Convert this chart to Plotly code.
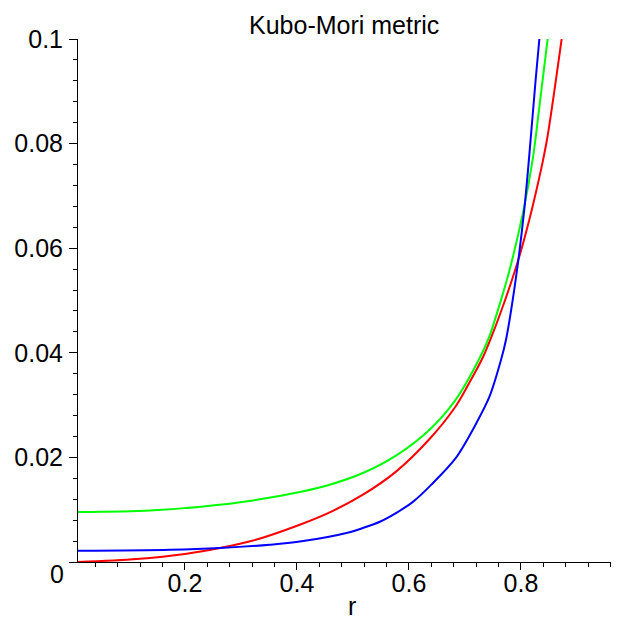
import plotly.graph_objects as go

# Data
green_r = [0.009, 0.1376, 0.2326, 0.3218, 0.405, 0.4585, 0.5178, 0.5774, 0.6367, 0.6813, 0.7258,
           0.7437, 0.7674, 0.7793, 0.803, 0.8209, 0.8328, 0.8476]
green_v = [0.00956, 0.00987, 0.01063, 0.01178, 0.01338, 0.01478, 0.01701, 0.02039, 0.0253, 0.0307, 0.0389,
           0.0432, 0.0512, 0.0557, 0.0665, 0.077, 0.087, 0.1]

red_r = [0.009, 0.114, 0.203, 0.2624, 0.3218, 0.405, 0.4585, 0.5178, 0.5774, 0.6367, 0.6813, 0.7058,
         0.7318, 0.7496, 0.768, 0.785, 0.797, 0.815, 0.8239, 0.8387, 0.8476, 0.8726]
red_v = [0.0, 0.00057, 0.00159, 0.00268, 0.0041, 0.00713, 0.00949, 0.01287, 0.01733, 0.02351, 0.02944, 0.0339,
         0.0391, 0.0437, 0.049, 0.0543, 0.0584, 0.0655, 0.0694, 0.0765, 0.0815, 0.1]

blue_r = [0.009, 0.1733, 0.2624, 0.3515, 0.405, 0.494, 0.5178, 0.548, 0.5774, 0.607, 0.64, 0.683, 0.72, 0.7437,
          0.7645, 0.7734, 0.7912, 0.806, 0.815, 0.826, 0.8328]
blue_v = [0.00216, 0.00235, 0.00268, 0.0033, 0.0039, 0.0057, 0.0065, 0.0077, 0.0094, 0.0115, 0.0148, 0.0198,
          0.0265, 0.0316, 0.0387, 0.0426, 0.0545, 0.0675, 0.078, 0.092, 0.1]

x_ticks = [0.2, 0.4, 0.6, 0.8]
x_ticklabels = ["0.2", "0.4", "0.6", "0.8"]
y_ticks = [0, 0.02, 0.04, 0.06, 0.08, 0.1]
y_ticklabels = ["", "0.02", "0.04", "0.06", "0.08", "0.1"]

FONT = "Liberation Sans, Arial, sans-serif"
# the page body has an 8px margin, so figure coordinates are offset by 8px
OFF = 8
W, H = 619, 621
ML, MT = 78 - OFF, 39 - OFF
MR = OFF
MB = H - (562 - OFF)
PW, PH = W - ML - MR, H - MT - MB


def px_to_paper(px, py):
    # px, py are screen pixels of the final picture
    return (px - OFF - ML) / PW, (H - MB - (py - OFF)) / PH


fig = go.Figure()
for xs, ys, col in [(red_r, red_v, "#ff0000"), (green_r, green_v, "#00ff00"), (blue_r, blue_v, "#0000ff")]:
    fig.add_trace(go.Scatter(x=xs, y=ys, mode="lines",
                             line=dict(color=col, width=2, shape="spline", smoothing=0.9),
                             showlegend=False, hoverinfo="skip"))

fig.update_layout(
    width=W, height=H,
    margin=dict(l=ML, r=MR, t=MT, b=MB, autoexpand=False),
    paper_bgcolor="white", plot_bgcolor="white",
    font=dict(family=FONT, color="black", size=25),
    xaxis=dict(range=[0.009, 0.975], showgrid=False, zeroline=False, automargin=False,
               showline=True, linecolor="black", linewidth=1,
               tickvals=x_ticks, ticktext=x_ticklabels,
               ticks="outside", ticklen=7, tickcolor="black", tickwidth=1,
               minor=dict(tick0=0, dtick=0.04, ticks="outside", ticklen=4, tickcolor="black", tickwidth=1),
               tickfont=dict(size=25, family=FONT), ticklabelstandoff=-8),
    yaxis=dict(range=[0, 0.1], showgrid=False, zeroline=False, automargin=False,
               showline=True, linecolor="black", linewidth=1,
               tickvals=y_ticks, ticktext=y_ticklabels,
               ticks="outside", ticklen=8, tickcolor="black", tickwidth=1,
               minor=dict(tick0=0, dtick=0.004, ticks="outside", ticklen=4, tickcolor="black", tickwidth=1),
               tickfont=dict(size=25, family=FONT), ticklabelstandoff=1),
)

for txt, px, py in [("0", 57, 574), ("r", 352, 606), ("Kubo-Mori metric", 344, 25)]:
    ax, ay = px_to_paper(px, py)
    fig.add_annotation(text=txt, x=ax, y=ay, xref="paper", yref="paper", showarrow=False,
                       xanchor="center", yanchor="middle",
                       font=dict(size=25, family=FONT, color="black"))

fig.write_html("out.html")
